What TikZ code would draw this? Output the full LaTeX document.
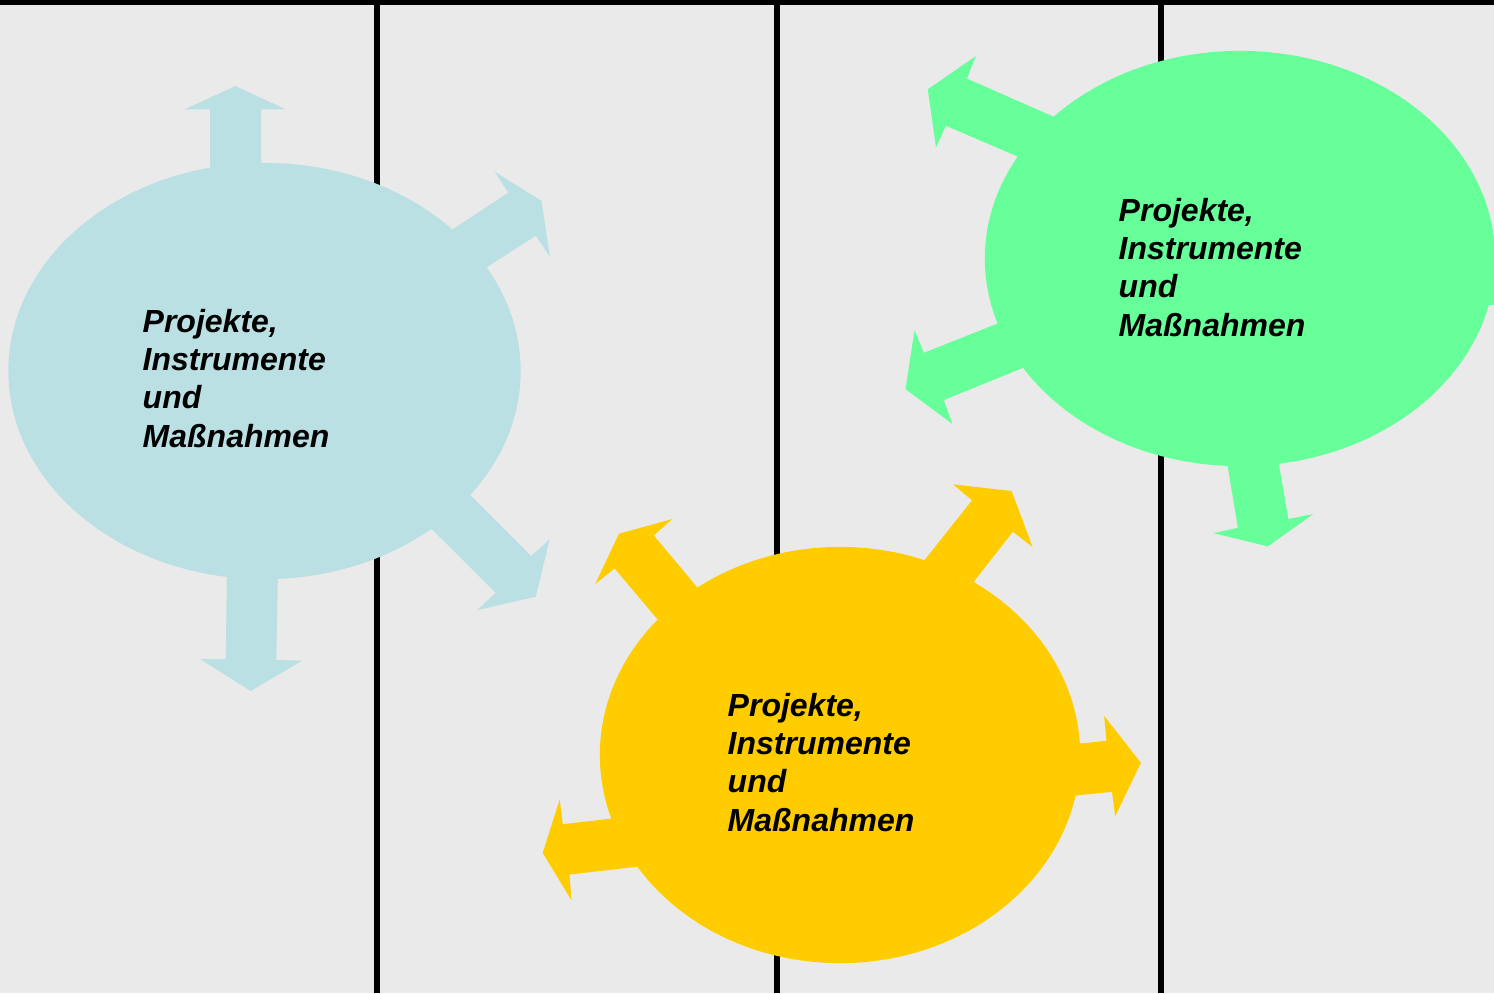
\documentclass[tikz,border=0pt]{standalone}
\usepackage{fontspec}
\setmainfont{Liberation Sans}
\definecolor{bgc}{HTML}{EAEAEA}
\definecolor{bluec}{HTML}{BBE0E3}
\definecolor{greenc}{HTML}{66FF99}
\definecolor{yellowc}{HTML}{FFCC00}
\begin{document}
\begin{tikzpicture}[x=0.01cm,y=-0.01cm,
  divline/.style={line width=1.5pt, draw=black},
  blueshape/.style={fill=bluec, draw=none},
  greenshape/.style={fill=greenc, draw=none},
  yellowshape/.style={fill=yellowc, draw=none},
  lbl/.style={anchor=base west, inner sep=0pt, align=left,
    font=\fontsize{9.1}{10.85}\selectfont\bfseries\itshape}]
\useasboundingbox (0,0) rectangle (1494,993);
\clip (0,0) rectangle (1494,993);
\fill[bgc] (0,0) rectangle (1494,993);
% frame lines
\draw[divline] (0,2.5) -- (1494,2.5);
\draw[divline] (377,0) -- (377,993);
\draw[divline] (777,0) -- (777,993);
\draw[divline] (1161,0) -- (1161,993);
% blue
\fill[blueshape] (264.5,371) ellipse [x radius=2.56cm, y radius=2.08cm];
\fill[blueshape] (210,200) -- (210,109.3) -- (184.8,109.3) -- (235.4,86) -- (285.5,109.3) -- (261,109.3) -- (261,200) -- cycle;
\fill[blueshape] (438.8,238.5) -- (508.2,192.7) -- (494.8,171.7) -- (541.5,201) -- (549.9,256.7) -- (535.8,235.7) -- (473.3,275.9) -- cycle;
\fill[blueshape] (454.7,479.7) -- (531.2,556) -- (549.6,539.3) -- (535.8,596.7) -- (477.6,610) -- (495.6,592.7) -- (416.4,513.7) -- cycle;
\fill[blueshape] (227,560) -- (225.8,659) -- (200.2,659) -- (250.7,691) -- (302,660.7) -- (276.3,660) -- (278.2,560) -- cycle;
% green
\fill[greenshape] (1240,258.5) ellipse [x radius=2.55cm, y radius=2.075cm];
\fill[greenshape] (1069,123.5) -- (966.9,78.6) -- (975.9,56) -- (927.8,89.3) -- (936,147.5) -- (945.8,125.7) -- (1034,163.5) -- cycle;
\fill[greenshape] (1011.7,317.9) -- (923.9,352.8) -- (914.5,330.3) -- (905.5,389.2) -- (952.4,423.9) -- (943.8,400) -- (1037.9,361.8) -- cycle;
\fill[greenshape] (1225,450) -- (1237.9,527.8) -- (1213.6,533.1) -- (1267.7,546.4) -- (1313.1,514.2) -- (1288.4,518.9) -- (1276,448) -- cycle;
\fill[greenshape] (1460,250) -- (1560,255) -- (1560,310) -- (1470,303) -- cycle;
% yellow
\fill[yellowshape] (840,755) ellipse [x radius=2.40cm, y radius=2.08cm];
\fill[yellowshape] (708.5,600.8) -- (653.8,535.4) -- (672.3,519) -- (619,533.7) -- (595.2,584) -- (614.6,568.4) -- (669,633) -- cycle;
\fill[yellowshape] (912.8,574.9) -- (972,500.3) -- (953.1,484.3) -- (1011.6,491) -- (1032.6,547) -- (1012.8,531.7) -- (961.8,597) -- cycle;
\fill[yellowshape] (1064.6,745) -- (1106.5,740.8) -- (1104.1,715.8) -- (1140.9,762.8) -- (1115.2,816.2) -- (1112,791.8) -- (1061.4,797) -- cycle;
\fill[yellowshape] (626.5,816.7) -- (562.8,824.2) -- (559.7,799.5) -- (542.7,852.9) -- (571.5,900.2) -- (569.5,874.5) -- (652.5,865) -- cycle;
% labels (anchor = baseline of last line)
\node[lbl] (bluetext) at (142,447) {Projekte,\\Instrumente\\und\\Maßnahmen};
\node[lbl] (greentext) at (1118,336) {Projekte,\\Instrumente\\und\\Maßnahmen};
\node[lbl] (yellowtext) at (727,831) {Projekte,\\Instrumente\\und\\Maßnahmen};
\end{tikzpicture}
\end{document}
